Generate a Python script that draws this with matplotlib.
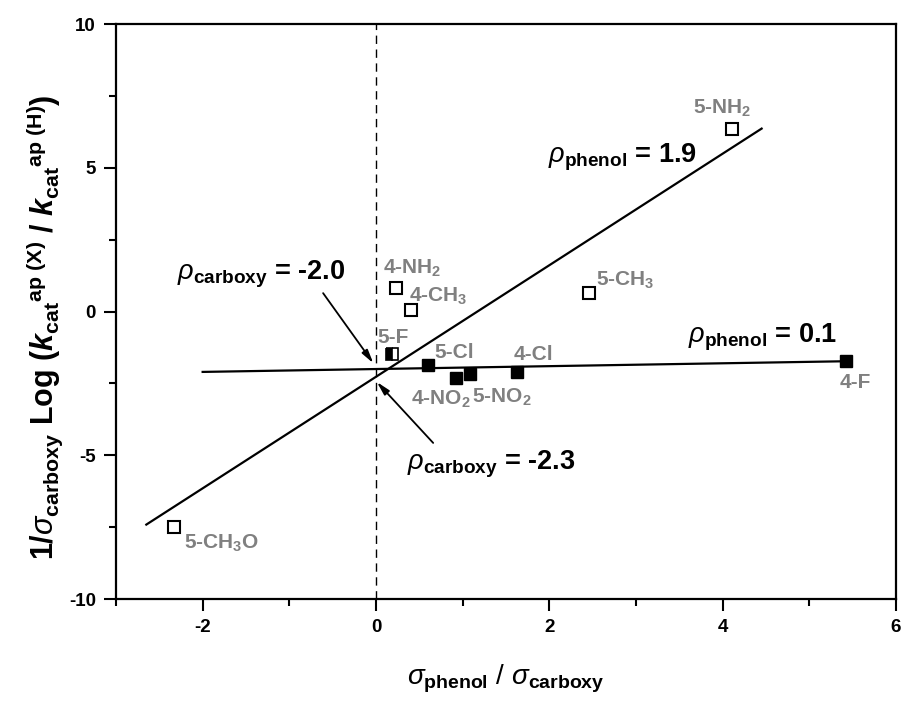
import numpy as np
import matplotlib
matplotlib.use('Agg')
import matplotlib.pyplot as plt

## Hammett-type plot : phenol vs carboxy substituent effects ##

plt.rcParams['font.family'] = 'Liberation Sans'
plt.rcParams['font.weight'] = 'bold'
plt.rcParams['axes.labelweight'] = 'bold'
plt.rcParams['axes.unicode_minus'] = False
plt.rcParams['mathtext.fontset'] = 'custom'
plt.rcParams['mathtext.rm'] = 'Liberation Sans:bold'
plt.rcParams['mathtext.bf'] = 'Liberation Sans:bold'
plt.rcParams['mathtext.it'] = 'Liberation Sans:italic:normal'
plt.rcParams['mathtext.cal'] = 'Liberation Sans:italic:bold'
plt.rcParams['mathtext.sf'] = 'Liberation Sans:normal'

##############################################################################
############################        Data        ##############################
##############################################################################
# open squares
open_names = ['5-NH$_2$', '4-NH$_2$', '4-CH$_3$', '5-CH$_3$', '5-CH$_3$O']
open_x = [4.11, 0.23, 0.40, 2.46, -2.33]
open_y = [6.35, 0.82, 0.05, 0.64, -7.49]
open_off = [(-7, 15), (12, 14), (20, 10), (26, 9), (34, -12)]

# filled squares
filled_names = ['5-Cl', '4-NO$_2$', '5-NO$_2$', '4-Cl', '4-F']
filled_x = [0.60, 0.92, 1.08, 1.63, 5.42]
filled_y = [-1.86, -2.32, -2.18, -2.09, -1.71]
filled_off = [(19, 9), (-11, -15), (23, -17), (12, 12), (7, -16)]

# half filled square
half_names = ['5-F']
half_x = [0.18]
half_y = [-1.49]
half_off = [(1, 12)]

# linear fits : slope, intercept, x start, x end
fit_steep = [1.94, -2.27, -2.65, 4.45]
fit_flat = [0.05, -2.0, -2.0, 5.42]

gray = '#808080'

fig = plt.figure(figsize=(9.04, 7.03), dpi=100)
ax = fig.add_axes([0.1283, 0.1479, 0.8628, 0.8179])

# fit lines
for slope, icpt, x0, x1 in [fit_steep, fit_flat]:
    xs = np.array([x0, x1])
    ax.plot(xs, slope*xs + icpt, color='black', lw=1.6, zorder=2)

ax.axvline(0, color='black', lw=1.0, ls=(0, (6, 4)), zorder=1)

ax.plot(open_x, open_y, 's', ms=8, mfc='white', mec='black', mew=1.5, ls='none', zorder=3)
ax.plot(filled_x, filled_y, 's', ms=8.5, mfc='black', mec='black', mew=1, ls='none', zorder=3)
ax.plot(half_x, half_y, 's', ms=8, mfc='black', mfcalt='white', fillstyle='left',
        mec='black', mew=1.2, ls='none', zorder=3)

# point labels
for names, xs, ys, offs in [(open_names, open_x, open_y, open_off),
                            (filled_names, filled_x, filled_y, filled_off),
                            (half_names, half_x, half_y, half_off)]:
    for n, x, y, o in zip(names, xs, ys, offs):
        ax.annotate(n, (x, y), xytext=o, textcoords='offset points',
                    ha='center', va='center', color=gray, fontsize=15, fontweight='bold')

# slopes and intercepts
ax.text(1.98, 5.20, r'$\rho_{\mathrm{phenol}}$ = 1.9', fontsize=19.5, ha='left', va='baseline')
ax.text(3.60, -1.06, r'$\rho_{\mathrm{phenol}}$ = 0.1', fontsize=19.5, ha='left', va='baseline')
ax.text(-2.30, 1.10, r'$\rho_{\mathrm{carboxy}}$ = -2.0', fontsize=19.5, ha='left', va='baseline')
ax.text(0.36, -5.51, r'$\rho_{\mathrm{carboxy}}$ = -2.3', fontsize=19.5, ha='left', va='baseline')

arrow = dict(arrowstyle='-|>,head_length=0.8,head_width=0.2', color='black', lw=1.3, shrinkA=0, shrinkB=0)
ax.annotate('', xy=(-0.03, -1.8), xytext=(-0.61, 0.64), arrowprops=arrow)
ax.annotate('', xy=(0.01, -2.45), xytext=(0.66, -4.57), arrowprops=arrow)

ax.set_xlim(-3, 6)
ax.set_ylim(-10, 10)
ax.set_xticks([-2, 0, 2, 4, 6])
ax.set_xticks(np.arange(-3, 6.1, 1), minor=True)
ax.set_yticks([-10, -5, 0, 5, 10])
ax.set_yticks(np.arange(-10, 10.1, 2.5), minor=True)
ax.tick_params(which='major', direction='out', length=8.5, width=1.5, labelsize=13.5, pad=6)
ax.tick_params(which='minor', direction='out', length=5, width=1.5)
for s in ax.spines.values():
    s.set_linewidth(1.6)

ax.set_xlabel(r'$\sigma_{\mathrm{phenol}}\ \mathsf{/}\ \sigma_{\mathrm{carboxy}}$', fontsize=20, labelpad=19)
ax.set_ylabel(r'1/$\sigma_{\mathrm{carboxy}}$ Log ($\mathcal{k}_{\mathrm{cat}}{}^{\mathrm{ap\ (X)}}$ / $\mathcal{k}_{\mathrm{cat}}{}^{\mathrm{ap\ (H)}}$)',
              fontsize=22)
ax.yaxis.set_label_coords(-0.066, 0.473)

fig.savefig('out.png', dpi=100)
